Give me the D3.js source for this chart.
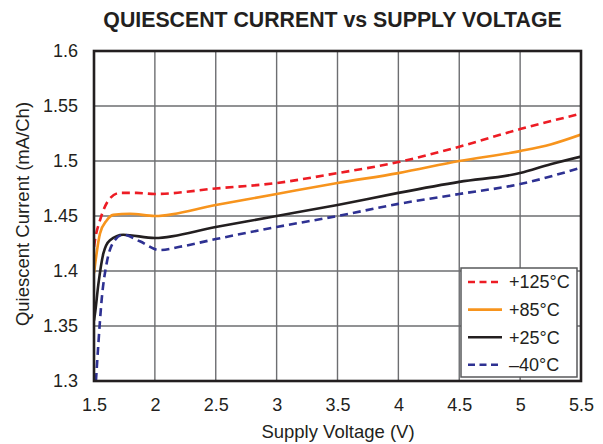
<!DOCTYPE html>
<html>
<head>
<meta charset="utf-8">
<script src="https://cdn.jsdelivr.net/npm/d3@7"></script>
<style>
  body { margin: 0; background: #fff; }
  text { font-family: "Liberation Sans", Arial, sans-serif; fill: #231f20; }
</style>
</head>
<body>
<div id="chart"></div>
<script>
// data
var xTicks = [1.5, 2, 2.5, 3, 3.5, 4, 4.5, 5, 5.5]
var yTicks = [1.3, 1.35, 1.4, 1.45, 1.5, 1.55, 1.6]

var red125 = [[1.5, 1.422], [1.508, 1.428], [1.549, 1.446], [1.631, 1.466], [1.713, 1.471], [1.85, 1.471],
  [2, 1.47], [2.5, 1.475], [3, 1.48], [3.5, 1.489], [4, 1.499], [4.5, 1.513], [5, 1.529], [5.5, 1.543]]
var orange85 = [[1.5, 1.398], [1.508, 1.405], [1.549, 1.434], [1.604, 1.446], [1.658, 1.451], [1.795, 1.452],
  [2, 1.45], [2.5, 1.46], [3, 1.47], [3.5, 1.48], [4, 1.489], [4.5, 1.5], [5, 1.509], [5.25, 1.515], [5.5, 1.524]]
var black25 = [[1.5, 1.355], [1.508, 1.361], [1.536, 1.388], [1.577, 1.416], [1.631, 1.428], [1.74, 1.433],
  [2, 1.43], [2.5, 1.44], [3, 1.45], [3.5, 1.46], [4, 1.471], [4.5, 1.481], [5, 1.489], [5.25, 1.497], [5.5, 1.504]]
var blue40 = [[1.516, 1.3], [1.536, 1.334], [1.563, 1.374], [1.604, 1.407], [1.658, 1.426], [1.74, 1.433],
  [1.877, 1.427], [2.041, 1.419], [2.205, 1.422], [2.5, 1.429], [3, 1.44], [3.5, 1.45], [4, 1.461],
  [4.5, 1.47], [5, 1.479], [5.5, 1.494]]

var series = [
  {name: "+125°C", data: red125, color: "#ed1c24", dash: "8,5"},
  {name: "+85°C", data: orange85, color: "#f7941d", dash: null},
  {name: "+25°C", data: black25, color: "#231f20", dash: null},
  {name: "\u201340°C", data: blue40, color: "#2e3192", dash: "8,5"}
]

var margin = {top: 51, right: 22, bottom: 63, left: 94},
    width = 603 - margin.left - margin.right,
    height = 444 - margin.top - margin.bottom;

var svg = d3.select("#chart")
  .append("svg")
    .attr("width", 603)
    .attr("height", 444)
  .append("g")
    .attr("transform", "translate(" + margin.left + "," + margin.top + ")");

var x = d3.scaleLinear().domain([1.5, 5.5]).range([0, width])
var y = d3.scaleLinear().domain([1.3, 1.6]).range([height, 0])

// grid
svg.append("g")
  .selectAll("line")
  .data(xTicks)
  .enter().append("line")
    .attr("x1", function(d) { return x(d); })
    .attr("x2", function(d) { return x(d); })
    .attr("y1", 0)
    .attr("y2", height)
    .attr("stroke", "#6d6e71")
    .attr("stroke-width", 1.4)
svg.append("g")
  .selectAll("line")
  .data(yTicks)
  .enter().append("line")
    .attr("y1", function(d) { return y(d); })
    .attr("y2", function(d) { return y(d); })
    .attr("x1", 0)
    .attr("x2", width)
    .attr("stroke", "#6d6e71")
    .attr("stroke-width", 1.4)

// axes (labels only)
var xAxis = svg.append("g")
  .attr("transform", "translate(0," + height + ")")
  .call(d3.axisBottom(x).tickValues(xTicks).tickSize(0).tickPadding(17).tickFormat(d3.format("")))
xAxis.select(".domain").remove()
xAxis.selectAll("text").style("font-size", "18px").style("font-family", "Liberation Sans, Arial, sans-serif")

var yAxis = svg.append("g")
  .call(d3.axisLeft(y).tickValues(yTicks).tickSize(0).tickPadding(16).tickFormat(d3.format("")))
yAxis.select(".domain").remove()
yAxis.selectAll("text").style("font-size", "18px").style("font-family", "Liberation Sans, Arial, sans-serif")

// lines
var line = d3.line()
  .x(function(d) { return x(d[0]); })
  .y(function(d) { return y(d[1]); })
  .curve(d3.curveMonotoneX)

svg.append("defs").append("clipPath").attr("id", "clip")
  .append("rect").attr("width", width).attr("height", height)

svg.append("g")
  .attr("clip-path", "url(#clip)")
  .selectAll("path")
  .data(series)
  .enter().append("path")
    .attr("d", function(d) { return line(d.data); })
    .attr("fill", "none")
    .attr("stroke", function(d) { return d.color; })
    .attr("stroke-width", 2.6)
    .attr("stroke-dasharray", function(d) { return d.dash; })

// frame
svg.append("rect")
  .attr("width", width)
  .attr("height", height)
  .attr("fill", "none")
  .attr("stroke", "#231f20")
  .attr("stroke-width", 2.6)

// legend
var lg = svg.append("g").attr("transform", "translate(" + (461 - margin.left) + "," + (268 - margin.top) + ")")
lg.append("rect")
  .attr("width", 116)
  .attr("height", 109)
  .attr("fill", "#fff")
  .attr("stroke", "#58595b")
  .attr("stroke-width", 1.5)

var items = lg.selectAll(".legend")
  .data(series)
  .enter().append("g")
    .attr("class", "legend")
    .attr("transform", function(d, i) { return "translate(0," + (14 + i * 27.6) + ")"; })
items.append("line")
  .attr("x1", 7)
  .attr("x2", 41)
  .attr("stroke", function(d) { return d.color; })
  .attr("stroke-width", 2.6)
  .attr("stroke-dasharray", function(d) { return d.dash ? "7,4.5" : null; })
items.append("text")
  .attr("x", 48)
  .attr("dy", "0.35em")
  .style("font-size", "18px")
  .text(function(d) { return d.name; })

// titles
svg.append("text")
  .attr("x", 332.5 - margin.left)
  .attr("y", 26.5 - margin.top)
  .attr("text-anchor", "middle")
  .style("font-size", "21.3px")
  .style("font-weight", "bold")
  .text("QUIESCENT CURRENT vs SUPPLY VOLTAGE")

svg.append("text")
  .attr("x", 338 - margin.left)
  .attr("y", height + 57)
  .attr("text-anchor", "middle")
  .style("font-size", "18.5px")
  .text("Supply Voltage (V)")

svg.append("text")
  .attr("transform", "rotate(-90)")
  .attr("x", -(214 - margin.top))
  .attr("y", 29 - margin.left)
  .attr("text-anchor", "middle")
  .style("font-size", "18.5px")
  .text("Quiescent Current (mA/Ch)")
</script>
</body>
</html>
